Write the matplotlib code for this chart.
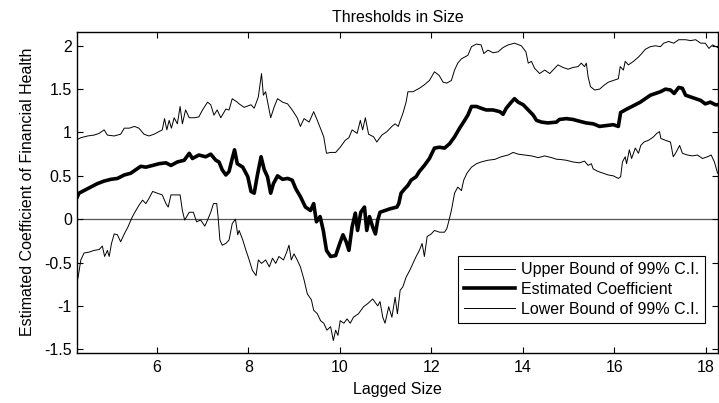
import numpy as np
import matplotlib
matplotlib.use("Agg")
import matplotlib.pyplot as plt

plt.rcParams['font.family'] = ['Liberation Sans', 'DejaVu Sans']

# values
upper_x = [4.23, 4.34, 4.49, 4.63, 4.74, 4.85, 4.92, 5.07, 5.21, 5.29, 5.40, 5.51, 5.61, 5.72,
           5.83, 5.94, 6.05, 6.12, 6.17, 6.22, 6.27, 6.32, 6.38, 6.45, 6.51, 6.56, 6.63, 6.71,
           6.82, 6.92, 7.00, 7.11, 7.18, 7.25, 7.32, 7.40, 7.51, 7.58, 7.65, 7.76,
           7.80, 7.91, 8.06, 8.13, 8.22, 8.29, 8.33, 8.38, 8.49, 8.57, 8.64, 8.75, 8.86, 8.96,
           9.07, 9.14, 9.22, 9.33, 9.43, 9.51, 9.59, 9.65, 9.71, 9.80, 9.91, 10.01, 10.12, 10.20,
           10.27, 10.38, 10.45, 10.50, 10.56, 10.63, 10.74, 10.81, 10.92, 11.03, 11.14, 11.21, 11.28,
           11.31, 11.38, 11.45, 11.49, 11.60, 11.74, 11.85, 11.96, 12.07, 12.17, 12.26, 12.34, 12.44,
           12.51, 12.58, 12.66, 12.73, 12.80, 12.88, 12.99, 13.09, 13.15, 13.24, 13.35, 13.46, 13.57,
           13.68, 13.82, 13.97, 14.07, 14.12, 14.19, 14.26, 14.37, 14.48, 14.59, 14.70, 14.77,
           14.88, 14.99, 15.10, 15.21, 15.28, 15.35, 15.39, 15.43, 15.48, 15.57, 15.68, 15.79, 15.87,
           15.98, 16.09, 16.13, 16.20, 16.24, 16.31, 16.42, 16.53, 16.60, 16.68, 16.79, 16.90, 17.01,
           17.08, 17.19, 17.30, 17.41, 17.56, 17.67, 17.78, 17.89, 17.99, 18.07, 18.15, 18.26]
upper_y = [0.91, 0.94, 0.96, 0.97, 0.99, 1.03, 0.97, 0.96, 0.98, 1.05, 1.05, 1.07, 1.05, 0.98,
           0.96, 0.98, 1.01, 1.03, 1.16, 1.03, 1.14, 1.05, 1.17, 1.10, 1.30, 1.10, 1.26, 1.17,
           1.17, 1.18, 1.26, 1.35, 1.32, 1.20, 1.26, 1.17, 1.27, 1.26, 1.39, 1.35,
           1.33, 1.29, 1.32, 1.28, 1.41, 1.68, 1.43, 1.47, 1.17, 1.30, 1.39, 1.35, 1.33, 1.26,
           1.17, 1.07, 1.16, 1.12, 1.24, 1.14, 1.03, 0.95, 0.76, 0.77, 0.77, 0.83, 0.91, 0.94,
           1.03, 0.99, 1.14, 1.03, 1.17, 0.98, 0.95, 0.89, 0.97, 1.01, 1.07, 1.10, 1.07,
           1.12, 1.22, 1.35, 1.47, 1.47, 1.51, 1.55, 1.60, 1.70, 1.66, 1.58, 1.57, 1.60,
           1.72, 1.80, 1.85, 1.87, 1.89, 1.99, 2.02, 2.01, 1.91, 1.95, 1.92, 1.93, 1.98,
           2.01, 2.03, 2.00, 1.93, 1.80, 1.82, 1.74, 1.68, 1.72, 1.68, 1.74, 1.78,
           1.75, 1.73, 1.75, 1.76, 1.80, 1.76, 1.80, 1.64, 1.53, 1.49, 1.50, 1.55, 1.58,
           1.60, 1.62, 1.76, 1.72, 1.82, 1.78, 1.82, 1.87, 1.91, 1.96, 1.99, 2.00, 1.99,
           2.03, 2.05, 2.03, 2.07, 2.07, 2.06, 2.07, 2.03, 2.03, 1.97, 2.01, 1.98]

coef_x = [4.23, 4.30, 4.41, 4.56, 4.70, 4.85, 5.00, 5.14, 5.29, 5.43, 5.54, 5.65, 5.76, 5.91,
          6.05, 6.20, 6.31, 6.45, 6.60, 6.71, 6.78, 6.92, 7.07, 7.18, 7.29, 7.36, 7.43, 7.51,
          7.58, 7.65, 7.70, 7.76,
          7.88, 7.99, 8.06, 8.13, 8.20, 8.28, 8.35, 8.42, 8.49, 8.55, 8.64, 8.75, 8.86, 8.96,
          9.04, 9.14, 9.25, 9.36, 9.43, 9.49, 9.57, 9.64, 9.71, 9.80, 9.91, 10.00, 10.07, 10.14,
          10.20, 10.27, 10.34, 10.39, 10.46, 10.54, 10.59, 10.65, 10.72, 10.78, 10.83, 10.88,
          10.99, 11.10, 11.25,
          11.29, 11.34, 11.42, 11.49, 11.56, 11.67, 11.74, 11.85, 11.96, 12.07, 12.18, 12.29, 12.40,
          12.51, 12.62, 12.73, 12.80, 12.88, 12.99, 13.09, 13.20, 13.35, 13.50, 13.57, 13.64, 13.75,
          13.82, 13.90, 14.01, 14.12, 14.23, 14.30, 14.41, 14.55, 14.74,
          14.80, 14.95, 15.10, 15.24, 15.39, 15.54, 15.68, 15.83, 15.98, 16.09, 16.14, 16.24, 16.35,
          16.46, 16.57, 16.68, 16.79, 16.90, 17.01, 17.12, 17.23, 17.31, 17.41, 17.49, 17.56, 17.67,
          17.78, 17.89, 17.99, 18.10, 18.21, 18.28]
coef_y = [0.22, 0.30, 0.33, 0.37, 0.41, 0.44, 0.46, 0.47, 0.51, 0.53, 0.57, 0.61, 0.60, 0.62,
          0.64, 0.65, 0.62, 0.66, 0.68, 0.76, 0.70, 0.74, 0.72, 0.75, 0.68, 0.66, 0.57, 0.51,
          0.55, 0.70, 0.80, 0.64,
          0.60, 0.49, 0.32, 0.30, 0.51, 0.72, 0.57, 0.49, 0.30, 0.41, 0.50, 0.46, 0.47, 0.45,
          0.35, 0.26, 0.14, 0.10, 0.18, -0.03, 0.03, -0.13, -0.36, -0.43, -0.42, -0.28, -0.18, -0.26,
          -0.36, -0.09, 0.07, -0.13, 0.08, 0.14, -0.13, 0.03, -0.09, -0.17, -0.01, 0.08,
          0.10, 0.12, 0.14,
          0.18, 0.30, 0.35, 0.39, 0.45, 0.49, 0.55, 0.62, 0.70, 0.82, 0.83, 0.82, 0.87,
          0.95, 1.05, 1.14, 1.20, 1.30, 1.30, 1.28, 1.26, 1.26, 1.24, 1.21, 1.28, 1.35,
          1.39, 1.35, 1.32, 1.26, 1.20, 1.14, 1.12, 1.11, 1.12,
          1.15, 1.16, 1.15, 1.13, 1.11, 1.10, 1.07, 1.08, 1.09, 1.07, 1.23, 1.26, 1.29,
          1.32, 1.35, 1.39, 1.43, 1.45, 1.47, 1.50, 1.49, 1.45, 1.52, 1.51, 1.43, 1.41,
          1.39, 1.37, 1.33, 1.35, 1.32, 1.32]

lower_x = [4.23, 4.28, 4.34, 4.41, 4.52, 4.63, 4.74, 4.81, 4.86, 4.92, 4.96, 5.01, 5.07, 5.14,
           5.21, 5.29, 5.37, 5.45, 5.51, 5.61, 5.69, 5.76, 5.83, 5.91, 6.01, 6.12, 6.20, 6.25,
           6.31, 6.41, 6.51, 6.56, 6.61, 6.71, 6.80, 6.87, 6.96, 7.05, 7.11, 7.18, 7.24, 7.31,
           7.34, 7.38, 7.43, 7.51, 7.58, 7.65, 7.72, 7.77,
           7.80, 7.88, 7.95, 8.02, 8.09, 8.17, 8.22, 8.29, 8.38, 8.46, 8.53, 8.60, 8.67, 8.77,
           8.84, 8.89, 8.94, 9.00, 9.07, 9.14, 9.22, 9.29, 9.38, 9.43, 9.51, 9.58, 9.65, 9.72,
           9.80, 9.86, 9.91, 9.96, 10.01, 10.09, 10.16, 10.23, 10.30, 10.41, 10.52, 10.62, 10.72,
           10.83, 10.88, 10.94, 10.99, 11.07, 11.14, 11.21, 11.26,
           11.27, 11.32, 11.38, 11.45, 11.53, 11.60, 11.67, 11.74, 11.80, 11.85, 11.91, 12.00,
           12.07, 12.18, 12.29, 12.34, 12.39, 12.44, 12.51, 12.58, 12.66, 12.71, 12.78, 12.88,
           12.99, 13.09, 13.24, 13.39, 13.53, 13.68, 13.79, 13.90, 14.04, 14.19, 14.34, 14.48,
           14.63, 14.75,
           14.80, 14.95, 15.10, 15.24, 15.35, 15.43, 15.50, 15.54, 15.65, 15.76, 15.87, 15.98,
           16.09, 16.14, 16.18, 16.24, 16.27, 16.33, 16.38, 16.46, 16.53, 16.58, 16.65, 16.75,
           16.86, 16.93, 16.99, 17.02, 17.12, 17.23, 17.29, 17.34, 17.43, 17.49, 17.60, 17.71,
           17.82, 17.93, 18.04, 18.12, 18.19, 18.26]
lower_y = [-0.78, -0.67, -0.47, -0.39, -0.38, -0.36, -0.35, -0.31, -0.43, -0.36, -0.43, -0.28,
           -0.17, -0.18, -0.26, -0.17, -0.09, 0.01, 0.07, 0.16, 0.22, 0.18, 0.24, 0.32, 0.30,
           0.28, 0.18, 0.14, 0.28, 0.28, 0.28, 0.10, -0.01, 0.08, 0.08, -0.03, -0.01, -0.08,
           -0.01, 0.08, 0.18, 0.18, 0.03, -0.24, -0.30, -0.28, -0.24, -0.05, 0.00, -0.18,
           -0.13, -0.24, -0.36, -0.47, -0.59, -0.65, -0.47, -0.51, -0.47, -0.55, -0.45, -0.51,
           -0.43, -0.47, -0.38, -0.30, -0.47, -0.40, -0.47, -0.55, -0.70, -0.86, -0.93, -1.05,
           -1.09, -1.17, -1.20, -1.28, -1.24, -1.40, -1.28, -1.34, -1.17, -1.20, -1.15, -1.20,
           -1.13, -1.09, -1.01, -0.97, -0.92, -1.00, -0.95, -1.13, -1.20, -1.01, -1.13, -0.90,
           -1.09,
           -1.05, -0.82, -0.78, -0.67, -0.59, -0.51, -0.43, -0.36, -0.28, -0.43, -0.20, -0.17,
           -0.13, -0.15, -0.15, -0.11, -0.01, 0.10, 0.30, 0.37, 0.33, 0.45, 0.53, 0.60,
           0.64, 0.66, 0.68, 0.69, 0.72, 0.74, 0.77, 0.75, 0.74, 0.73, 0.71, 0.73,
           0.71, 0.69,
           0.69, 0.68, 0.66, 0.65, 0.67, 0.62, 0.64, 0.58, 0.55, 0.53, 0.51, 0.50,
           0.47, 0.49, 0.66, 0.72, 0.64, 0.80, 0.70, 0.82, 0.76, 0.85, 0.89, 0.91,
           0.95, 0.99, 1.01, 0.93, 0.91, 0.89, 0.72, 0.76, 0.85, 0.76, 0.74, 0.73,
           0.74, 0.70, 0.72, 0.74, 0.66, 0.53]

yticks = [-1.5, -1, -0.5, 0, 0.5, 1, 1.5, 2]
ytick_labels = ['-1.5', '-1', '-0.5', '0', '0.5', '1', '1.5', '2']
xticks = [6, 8, 10, 12, 14, 16, 18]

fs = 11.5

fig = plt.figure(figsize=(7.19, 4.03), dpi=100)
ax = fig.add_axes([0.1067, 0.1248, 0.892, 0.796])

ax.axhline(0, color='#555555', lw=0.9, zorder=1)
ax.plot(upper_x, upper_y, color='black', lw=0.7, label='Upper Bound of 99% C.I.')
ax.plot(coef_x, coef_y, color='black', lw=2.6, label='Estimated Coefficient')
ax.plot(lower_x, lower_y, color='black', lw=0.7, label='Lower Bound of 99% C.I.')

ax.set_xlim(4.25, 18.27)
ax.set_ylim(-1.54, 2.16)
ax.set_xticks(xticks)
ax.set_xticklabels([str(t) for t in xticks])
ax.set_yticks(yticks)
ax.set_yticklabels(ytick_labels)
ax.tick_params(direction='in', length=4, width=0.8, top=True, right=True, labelsize=fs)
ax.tick_params(axis='x', pad=5)
ax.tick_params(axis='y', pad=3.5)
for s in ax.spines.values():
    s.set_linewidth(1.0)

ax.set_title('Thresholds in Size', fontsize=fs, pad=7)
ax.set_xlabel('Lagged Size', fontsize=fs, labelpad=5)
ax.set_ylabel('Estimated Coefficient of Financial Health', fontsize=fs, labelpad=7)

leg = ax.legend(loc='lower right', bbox_to_anchor=(0.98, 0.092), fontsize=fs, frameon=True,
                fancybox=False, edgecolor='black', framealpha=1, handlelength=3.2,
                borderpad=0.4, labelspacing=0.3, handletextpad=0.35, borderaxespad=0)
leg.get_frame().set_linewidth(0.8)

fig.savefig('out.png', dpi=100)
